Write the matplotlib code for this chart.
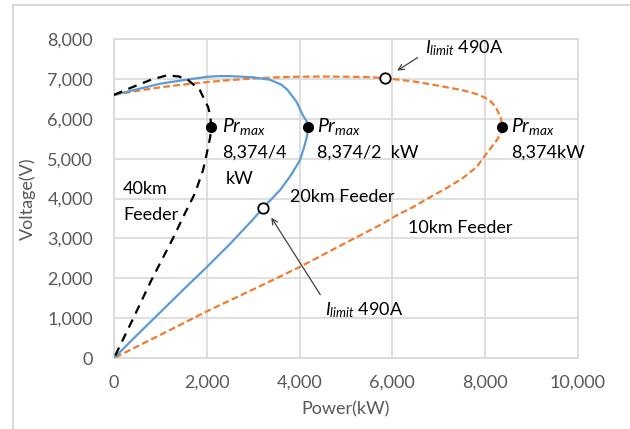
import matplotlib
matplotlib.use('Agg')
import matplotlib.pyplot as plt
from matplotlib.patches import Rectangle

plt.rcParams['font.family'] = ['Lato', 'DejaVu Sans']
plt.rcParams['mathtext.fontset'] = 'custom'
plt.rcParams['mathtext.it'] = 'Lato:italic'
plt.rcParams['mathtext.rm'] = 'Lato'

# 10km feeder (upper branch -> nose -> lower branch)
p10 = [0, 500, 1000, 1500, 2000, 2500, 3000, 3500, 4000, 4500, 5000, 5500, 5850, 6500, 7000,
       7500, 7820, 8000, 8150, 8260, 8340, 8374, 8340, 8254, 8040, 7820, 7520, 7170, 6810, 6440,
       6100, 5730, 5000, 4000, 3000, 2000, 1000, 0]
v10 = [6600, 6700, 6790, 6860, 6920, 6970, 7010, 7040, 7055, 7060, 7055, 7045, 7020, 6930, 6830,
       6720, 6620, 6530, 6410, 6230, 6030, 5800, 5640, 5460, 5140, 4790, 4510, 4260, 4030, 3780,
       3580, 3330, 2890, 2280, 1720, 1170, 580, 0]

# 20km feeder
p20 = [0, 500, 1000, 1500, 2000, 2220, 2500, 3000, 3360, 3600, 3730, 3940, 4070, 4150, 4187,
       4160, 4100, 4010, 3800, 3580, 3210, 3000, 2500, 2000, 1500, 1000, 500, 0]
v20 = [6600, 6740, 6880, 6970, 7050, 7070, 7070, 7040, 6980, 6860, 6740, 6420, 6090, 5950, 5800,
       5550, 5290, 4960, 4560, 4210, 3760, 3480, 2860, 2280, 1720, 1150, 580, 0]

# 40km feeder
p40 = [0, 410, 800, 1140, 1400, 1600, 1850, 2030, 2080, 2093, 2075, 2030, 1920, 1745, 1530, 1270,
       800, 400, 0]
v40 = [6600, 6800, 6980, 7090, 7060, 6970, 6720, 6290, 6050, 5800, 5550, 5290, 4710, 4130, 3630,
       3000, 1940, 960, 0]

pr_max_p = [2093, 4187, 8374]
pr_max_v = [5800, 5800, 5800]
pr_max_txt = ['8,374/4', '8,374/2  kW', '8,374kW']
ilim_p = [5850, 3210]
ilim_v = [7020, 3760]

fig = plt.figure(figsize=(6.3, 4.29), dpi=100)
ax = fig.add_axes([0.181, 0.1655, 0.736, 0.7435])

ax.plot(p10, v10, color='#ED7D31', lw=1.6, ls=(0, (3, 1.5)), zorder=3)
ax.plot(p20, v20, color='#5B9BD5', lw=1.6, zorder=3)
ax.plot(p40, v40, color='black', lw=1.6, ls=(0, (4, 3)), zorder=3)

ax.plot(pr_max_p, pr_max_v, 'o', color='black', ms=7, zorder=5)
ax.plot(ilim_p, ilim_v, 'o', mfc='white', mec='black', mew=1.3, ms=7.5, zorder=5)

ax.set_xlim(0, 10000)
ax.set_ylim(0, 8000)
ax.set_xticks(range(0, 10001, 2000))
ax.set_yticks(range(0, 8001, 1000))
ax.xaxis.set_major_formatter(matplotlib.ticker.StrMethodFormatter('{x:,.0f}'))
ax.yaxis.set_major_formatter(matplotlib.ticker.StrMethodFormatter('{x:,.0f}'))
ax.tick_params(length=0, labelsize=13, labelcolor='#595959')
ax.tick_params(axis='x', pad=12)
ax.tick_params(axis='y', pad=15)
ax.grid(True, color='#D9D9D9', lw=1.2)
ax.set_axisbelow(True)
for s in ax.spines.values():
    s.set_color('#D9D9D9')
    s.set_linewidth(1.2)

ax.set_xlabel('Power(kW)', fontsize=13, color='#595959', labelpad=8)
ax.set_ylabel('Voltage(V)', fontsize=13, color='#595959', labelpad=8)

# Pr_max labels
off = [(240, 0), (190, 0), (190, 0)]
for i in range(3):
    x0 = pr_max_p[i] + off[i][0]
    ax.text(x0, pr_max_v[i], r'$\mathit{Pr}_{\mathit{max}}$', fontsize=14, va='center', ha='left')
    ax.text(x0, pr_max_v[i] - 650, pr_max_txt[i], fontsize=13, va='center', ha='left')
ax.text(pr_max_p[0] + 310, pr_max_v[0] - 1300, 'kW', fontsize=13, va='center', ha='left')

ax.text(195, 4230, '40km', fontsize=13, va='center', ha='left')
ax.text(195, 3580, 'Feeder', fontsize=13, va='center', ha='left')
ax.text(3790, 4030, '20km Feeder', fontsize=13, va='center', ha='left')
ax.text(6340, 3260, '10km Feeder', fontsize=13, va='center', ha='left')

ax.annotate('', xy=(6056, 7170), xytext=(6595, 7570),
            arrowprops=dict(arrowstyle='->', color='#404040', lw=0.9))
ax.text(6700, 7760, r'$I_{\mathit{limit}}$' + ' 490A', fontsize=13, va='center', ha='left')
ax.annotate('', xy=(3360, 3580), xytext=(4480, 1530),
            arrowprops=dict(arrowstyle='->', color='#404040', lw=0.9))
ax.text(4550, 1200, r'$I_{\mathit{limit}}$' + ' 490A', fontsize=13, va='center', ha='left')

# outer frame
fig.patches.append(Rectangle((13 / 630, -0.05), 1.0, 1 - 5 / 429 + 0.05, transform=fig.transFigure,
                             fill=False, edgecolor='#D9D9D9', lw=1.5))

fig.savefig('out.png', dpi=100)
